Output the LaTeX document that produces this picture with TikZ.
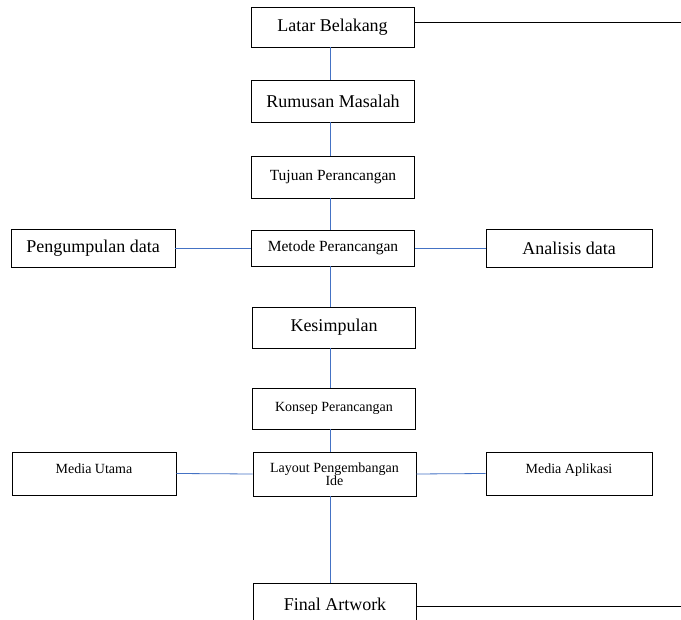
\documentclass[tikz,border=0pt]{standalone}
\usepackage{fontspec}
\setmainfont{Liberation Serif}
\definecolor{linkblue}{HTML}{4472C4}
\tikzset{
  box/.style={draw=black, line width=0.8pt, inner sep=0pt, minimum width=163pt, align=center},
  bigtext/.style={font=\fontsize{18}{20}\selectfont},
  midtext/.style={font=\fontsize{15.5}{17}\selectfont},
  smalltext/.style={font=\fontsize{14}{15}\selectfont},
  link/.style={draw=linkblue, line width=0.8pt},
  rule/.style={draw=black, line width=0.9pt}
}
\begin{document}
\begin{tikzpicture}[x=1pt, y=-1pt]
% page size of the reference
\useasboundingbox (0,0) rectangle (681,620);
\clip (0,0) rectangle (681,620);

% main column
\node[box, bigtext, minimum height=40pt] (latar) at (332.5, 27) {Latar Belakang};
\node[box, bigtext, minimum height=42pt] (rumusan) at (333, 101) {Rumusan Masalah};
\node[box, midtext, minimum height=42pt] (tujuan) at (333, 177) {Tujuan Perancangan};
\node[box, midtext, minimum height=36pt] (metode) at (333, 248) {Metode Perancangan};
\node[box, bigtext, minimum height=41pt] (kesimpulan) at (334, 327.5) {Kesimpulan};
\node[box, smalltext, minimum height=41pt] (konsep) at (334, 408.5) {Konsep Perancangan};
\node[box, smalltext, minimum height=44pt] (layout) at (334.5, 474) {Layout Pengembangan\\[-2pt]Ide};
\node[box, bigtext, minimum height=42pt] (final) at (335, 604) {Final Artwork};

% side boxes
\node[box, bigtext, minimum width=164pt, minimum height=38pt] (pengumpulan) at (93, 248) {Pengumpulan data};
\node[box, bigtext, minimum width=166pt, minimum height=38pt] (analisis) at (569, 248) {Analisis data};
\node[box, smalltext, minimum width=164pt, minimum height=43pt, text depth=9pt] (utama) at (94, 473.5) {Media Utama};
\node[box, smalltext, minimum width=166pt, minimum height=43pt, text depth=9pt] (aplikasi) at (569, 473.5) {Media Aplikasi};

% free ends and the spine of the column
\coordinate (spine) at (330, 0);
\coordinate (latarend) at (681, 22);
\coordinate (finalend) at (681, 606);

% vertical links
\draw[link] (latar.south -| spine) -- (rumusan.north -| spine);
\draw[link] (rumusan.south -| spine) -- (tujuan.north -| spine);
\draw[link] (tujuan.south -| spine) -- (metode.north -| spine);
\draw[link] (metode.south -| spine) -- (kesimpulan.north -| spine);
\draw[link] (kesimpulan.south -| spine) -- (konsep.north -| spine);
\draw[link] (konsep.south -| spine) -- (layout.north -| spine);
\draw[link] (layout.south -| spine) -- (final.north -| spine);

% side links
\draw[link] (pengumpulan.east) -- (metode.west);
\draw[link] (metode.east) -- (analisis.west);
\draw[link] (utama.east) -- (layout.west);
\draw[link] (layout.east) -- (aplikasi.west);

% lines to the right edge
\draw[rule] (latar.east |- latarend) -- (latarend);
\draw[rule] (final.east |- finalend) -- (finalend);
\end{tikzpicture}
\end{document}
